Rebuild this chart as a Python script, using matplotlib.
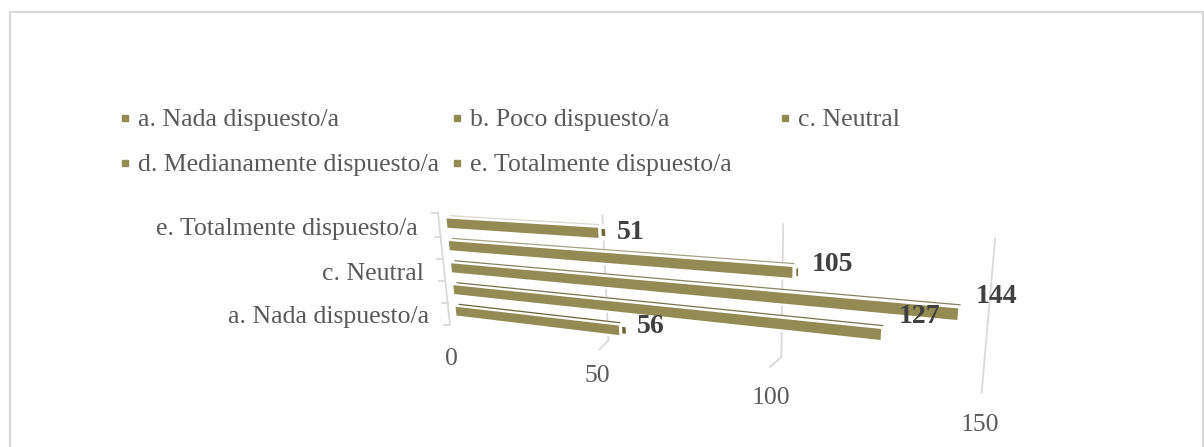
import numpy as np
import matplotlib
matplotlib.use('Agg')
import matplotlib.pyplot as plt
from matplotlib.transforms import Transform

categories = ['a. Nada dispuesto/a', 'b. Poco dispuesto/a', 'c. Neutral',
              'd. Medianamente dispuesto/a', 'e. Totalmente dispuesto/a']
values = [56, 127, 144, 105, 51]
axis_ticks = [0, 50, 100, 150]
shown_labels = ['a. Nada dispuesto/a', 'c. Neutral', 'e. Totalmente dispuesto/a']

olive = '#948a54'
grid_col = '#d9d9d9'
text_col = '#595959'

plt.rcParams['font.family'] = ['Liberation Serif', 'DejaVu Serif']


# tilted 3D look of the bar chart, value/row -> canvas pixels
class Tilt(Transform):
    input_dims = 2
    output_dims = 2

    def __init__(self, src, dst):
        super().__init__()
        rows = []
        rhs = []
        for (u, v), (x, y) in zip(src, dst):
            rows.append([u, v, 1, 0, 0, 0, -u * x, -v * x])
            rows.append([0, 0, 0, u, v, 1, -u * y, -v * y])
            rhs += [x, y]
        self.h = np.append(np.linalg.solve(np.array(rows, float), rhs), 1).reshape(3, 3)

    def transform_non_affine(self, pts):
        pts = np.asarray(pts, float)
        p = np.column_stack([pts, np.ones(len(pts))]) @ self.h.T
        return p[:, :2] / p[:, 2:]


fig = plt.figure(figsize=(12.04, 4.47), dpi=100)
ax = fig.add_axes([0, 0, 1, 1])
ax.set_xlim(0, 1204)
ax.set_ylim(447, 0)
ax.axis('off')

# outer chart frame
ax.plot([10, 10, 1203, 1203], [447, 11.5, 11.5, 447], color=grid_col, lw=1.6)

tilt = Tilt([(0, 0), (0, 4), (150, 0), (150, 4)],
            [(456, 311), (447, 223), (981, 373), (991, 258)])
tr = tilt + ax.transData

# grid lines standing on the back wall, with their stub on the floor
grid_low = [-0.5, -0.3, -0.7]
grid_high = [4.7, 4.75, 4.65]
grid_shift = [2.5, 2.5, 0.5]
for t, lo, hi, s in zip(axis_ticks[1:], grid_low, grid_high, grid_shift):
    ax.plot([t + s, t + s], [lo, hi], color=grid_col, lw=1.3, transform=tr, zorder=1)
for t, lo, s in zip(axis_ticks[1:3], grid_low, grid_shift):
    ax.plot([t + s, t + s - 3], [lo, lo - 0.45], color=grid_col, lw=1.3, transform=tr, zorder=1)

# left wall with its category ticks
ax.plot([438, 450, 444], [213, 325, 325], color=grid_col, lw=1.3, zorder=1)
for y, x in zip([213, 237, 259, 281, 303], [438, 440.5, 442.8, 445.2, 447.6]):
    ax.plot([x - 6, x], [y, y], color=grid_col, lw=1.3, zorder=1)

# bars: white top face, dark rear edge, olive front, small end cap
cap_width = [1.1, 0, 0, 0.4, 1.1]
edge_alpha = [1.0, 0.9, 0.8, 0.6, 0.25]
for i, v in enumerate(values):
    ax.fill([0, v + 2, v + 2, 0], [i - 0.3, i - 0.3, i + 0.36, i + 0.36],
            color='white', lw=0, transform=tr, zorder=2)
    ax.plot([1.5, v + 0.3], [i + 0.33, i + 0.33], color='#6b6338', lw=0.9,
            alpha=edge_alpha[i], transform=tr, zorder=3)
    ax.fill([0, v, v, 0], [i - 0.21, i - 0.21, i + 0.2, i + 0.2],
            color=olive, lw=0, transform=tr, zorder=4)
    if cap_width[i] > 0:
        ax.fill([v + 1, v + 1 + cap_width[i], v + 1 + cap_width[i], v + 1],
                [i - 0.12, i - 0.12, i + 0.16, i + 0.16],
                color='#6f6738', lw=0, transform=tr, zorder=4)

# value labels next to the bar ends
label_dx = [32, 39, 39, 40, 32]
label_dy = [4, 18, 18, 8, 0]
for i, v in enumerate(values):
    ax.annotate(str(v), xy=(v, i), xycoords=tr, xytext=(label_dx[i], label_dy[i]),
                textcoords='offset pixels', ha='center', va='center',
                fontsize=20, fontweight='bold', color='#404040', zorder=6)

# category names, only every other one fits
for name, x in zip(shown_labels, [429, 424, 418]):
    i = categories.index(name)
    ax.annotate(name, xy=(0, i), xycoords=tr, xytext=(x - tilt.transform([(0, i)])[0, 0], -6),
                textcoords='offset pixels', ha='right', va='center',
                fontsize=18.5, color=text_col)

# value axis labels
tick_x = [451, 597, 771, 980]
tick_y = [359, 376, 398, 425]
for t, x, y in zip(axis_ticks, tick_x, tick_y):
    ax.text(x, y, str(t), ha='center', va='center', fontsize=18.5, color=text_col)

# legend entries, the columns are not evenly spaced
legend_x = [125, 457, 785, 125, 457]
legend_y = [118, 118, 118, 163, 163]
for name, x, y in zip(categories, legend_x, legend_y):
    ax.plot(x, y, ls='none', marker='s', ms=5, color=olive)
    ax.text(x + 13, y + 2, name, ha='left', va='center', fontsize=18.5, color=text_col)

fig.savefig('out.png', dpi=100)
